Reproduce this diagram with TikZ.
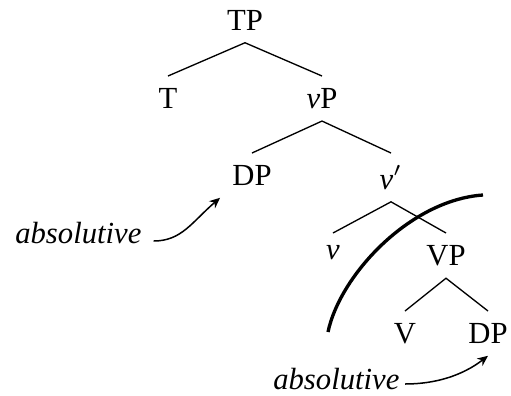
\documentclass[tikz,border=0pt]{standalone}
\usepackage{fontspec}
\setmainfont{Liberation Serif}
\usetikzlibrary{arrows.meta}
\tikzset{
  % category label in the tree
  cat/.style    = {anchor=north, inner sep=3.5pt, font=\fontsize{9.2}{11}\selectfont},
  % case annotation
  casenote/.style = {anchor=base west, inner sep=3.5pt,
                     font=\fontsize{9.2}{11}\selectfont\itshape},
  % tree branch
  branch/.style = {line width=0.4pt, black},
  % case-assignment arrow
  assign/.style = {-{Stealth[length=3.2pt,width=2.8pt]}, line width=0.45pt, black},
  % phase boundary
  phase/.style  = {line width=1pt, black},
}

\begin{document}
\begin{tikzpicture}[x=0.3pt,y=-0.3pt]
  \useasboundingbox (0,0) rectangle (511,395);

  % --- tree, row by row ---
  \node[cat] (TP)  at (245,-2)  {TP};
  \node[cat] (T)   at (168,76)  {T};
  \node[cat] (vP)  at (322,76)  {\textit{v}P};
  \node[cat] (DPa) at (252,153) {DP};
  \node[cat] (vbar) at (391,153) {\textit{v}$'$};
  \node[cat] (v)   at (333,233) {\textit{v}};
  \node[cat] (VP)  at (446,233) {VP};
  \node[cat] (V)   at (405,311) {V};
  \node[cat] (DPb) at (488,311) {DP};

  \draw[branch] (T.north) -- (TP.south) -- (vP.north);
  \draw[branch] (DPa.north) -- (vP.south) -- (vbar.north);
  \draw[branch] (v.north) -- (vbar.south) -- (VP.north);
  \draw[branch] (V.north) -- (VP.south) -- (DPb.north);

  % --- case annotations ---
  \node[casenote] (absa) at (3,243)   {absolutive};
  \node[casenote] (absb) at (261,389) {absolutive};

  \draw[assign] ([yshift=0.6pt]absa.base east) .. controls +(28,0) and +(-28,24) .. (DPa.south west);
  \draw[assign] ([xshift=-2pt,yshift=1.5pt]absb.base east) .. controls +(30,0) and +(-26,20) .. (DPb.south);

  % --- phase boundary ---
  \draw[phase] (328,332) .. controls (340,275) and (410,200) .. (483,195);

\end{tikzpicture}
\end{document}
